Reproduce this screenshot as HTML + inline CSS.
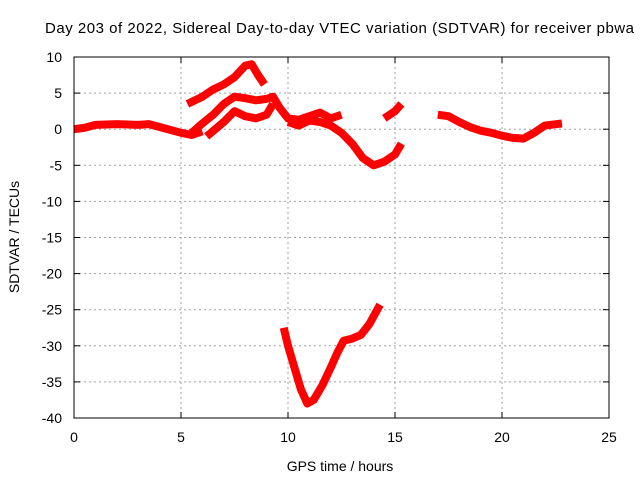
<!DOCTYPE html>
<html><head><meta charset="utf-8"><style>
body{margin:0;background:#fff}
svg{display:block;font-family:"Liberation Sans",sans-serif;font-size:14px}
</style></head><body>
<svg id="chart" width="640" height="480" xmlns="http://www.w3.org/2000/svg">
<text x="45" y="33" font-size="15" textLength="589" lengthAdjust="spacing">Day 203 of 2022, Sidereal Day-to-day VTEC variation (SDTVAR) for receiver pbwa</text>
<text x="340" y="471" text-anchor="middle">GPS time / hours</text>
<text transform="translate(19,237) rotate(-90)" text-anchor="middle">SDTVAR / TECUs</text>
<g id="grid"></g><g id="ticks"></g><g id="series"></g>
<rect x="74" y="57" width="535" height="361" fill="none" stroke="#000" stroke-width="1"/>
</svg>
<script>
const xTicks=[0,5,10,15,20,25];
const yTicks=[10,5,0,-5,-10,-15,-20,-25,-30,-35,-40];
const seriesA=[[0,0],[0.5,0.2],[1,0.6],[2,0.7],[3,0.6],[3.5,0.7],[4,0.3],[5,-0.5],[5.5,-0.8],[6,-0.3]];
const seriesB=[[5.3,3.5],[6,4.5],[6.5,5.5],[7,6.2],[7.5,7.2],[8,8.8],[8.3,9],[8.6,7.5],[8.9,6.2]];
const seriesC=[[5.5,-0.5],[6,0.8],[6.5,2],[7,3.5],[7.5,4.5],[8,4.3],[8.5,4],[9,4.2],[9.3,4.5],[9.6,3],[10,1.5],[10.5,1.3],[11,1.8],[11.5,2.3],[12,1.5],[12.5,2]];
const seriesD=[[6.2,-1],[7,1],[7.5,2.5],[8,1.8],[8.5,1.5],[9,2],[9.3,3.5]];
const seriesE=[[10,1],[10.5,0.5],[11,1.2],[11.5,1],[12,0.5],[12.5,-0.5],[13,-2],[13.5,-4],[14,-5],[14.5,-4.5],[15,-3.5],[15.3,-2]];
const seriesF=[[14.5,1.5],[15,2.5],[15.3,3.5]];
const seriesG=[[17,2],[17.5,1.8],[18,1],[18.5,0.3],[19,-0.2],[19.5,-0.5],[20,-0.9],[20.5,-1.2],[21,-1.3],[21.5,-0.5],[22,0.5],[22.8,0.8]];
const seriesH=[[9.8,-27.5],[10,-30],[10.3,-33],[10.6,-36],[10.9,-38],[11.2,-37.5],[11.6,-35.5],[12,-33],[12.3,-31],[12.6,-29.3],[13,-29],[13.4,-28.5],[13.8,-27],[14.3,-24.3]];
const NS="http://www.w3.org/2000/svg";
const X0=74,X1=609,Y0=57,Y1=418;
function xs(v){return X0+(v-0)/25*(X1-X0);}
function ys(v){return Y0+(10-v)/50*(Y1-Y0);}
const grid=document.getElementById('grid'),ticks=document.getElementById('ticks'),ser=document.getElementById('series');
function mk(tag,attrs,parent){const e=document.createElementNS(NS,tag);for(const k in attrs)e.setAttribute(k,attrs[k]);parent.appendChild(e);return e;}
xTicks.forEach(t=>{
  const x=xs(t);
  if(t>0&&t<25){const l=mk('line',{x1:x,x2:x,y1:Y0,y2:Y1,stroke:'#a0a0a0','stroke-dasharray':'2,3'},grid);
  
  }
  mk('line',{x1:x,x2:x,y1:Y1,y2:Y1-6,stroke:'#000'},ticks);
  mk('line',{x1:x,x2:x,y1:Y0,y2:Y0+6,stroke:'#000'},ticks);
  const tx=mk('text',{x:x,y:Y1+24,'text-anchor':'middle'},ticks);tx.textContent=t;
  
  
});
yTicks.forEach(t=>{
  const y=ys(t);
  if(t<10&&t>-40){const l=mk('line',{x1:X0,x2:X1,y1:y,y2:y,stroke:'#a0a0a0','stroke-dasharray':'2,3'},grid);
  
  }
  mk('line',{x1:X0,x2:X0+6,y1:y,y2:y,stroke:'#000'},ticks);
  mk('line',{x1:X1,x2:X1-6,y1:y,y2:y,stroke:'#000'},ticks);
  const tx=mk('text',{x:X0-12,y:y+5,'text-anchor':'end'},ticks);tx.textContent=t;
  
  
});
[seriesA,seriesB,seriesC,seriesD,seriesE,seriesF,seriesG,seriesH].forEach((s,i)=>{
  const p=mk('polyline',{points:s.map(d=>xs(d[0])+','+ys(d[1])).join(' '),fill:'none',stroke:'#ff0000','stroke-width':8,'stroke-linejoin':'round','stroke-linecap':'butt'},ser);
  
  
});
</script>
</body></html>
